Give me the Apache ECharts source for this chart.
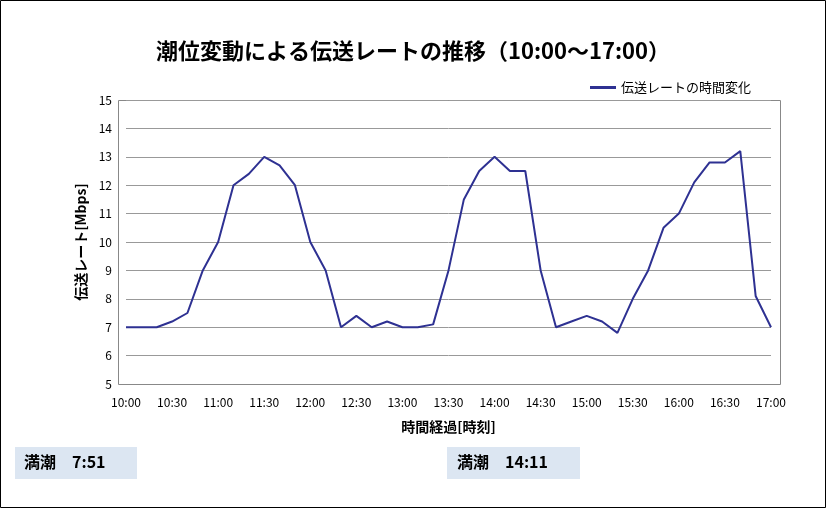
<!DOCTYPE html>
<html><head><meta charset="utf-8">
<script src="https://cdn.jsdelivr.net/npm/echarts@6/dist/echarts.min.js"></script>
<style>html,body{margin:0;padding:0;background:#fff}#c{width:826px;height:508px}</style>
</head><body><div id="c"></div>
<script>
const times = [];
for (let h = 10; h <= 17; h++) for (let m = 0; m < 60; m += 10) { if (h === 17 && m > 0) break; times.push(h + ':' + (m === 0 ? '00' : m)); }
const rates = [7,7,7,7.2,7.5,9,10,12,12.4,13,12.7,12,10,9,7,7.4,7,7.2,7,7,7.1,9,11.5,12.5,13,12.5,12.5,9,7,7.2,7.4,7.2,6.8,8,9,10.5,11,12.1,12.8,12.8,13.2,8.1,7];
const font = '"Noto Sans CJK JP", sans-serif';
const chart = echarts.init(document.getElementById('c'));
chart.setOption({
  animation:false,
  title:{text:'潮位変動による伝送レートの推移（10:00～17:00）',left:'center',top:35,textStyle:{fontFamily:font,fontSize:22,fontWeight:'bold',color:'#000'}},
  legend:{right:70,top:76,itemWidth:26,itemHeight:3,icon:'rect',textStyle:{fontFamily:font,fontSize:13,color:'#000'},data:['伝送レートの時間変化']},
  grid:{left:126,right:55,top:100,bottom:124},
  xAxis:{type:'category',data:times,boundaryGap:false,name:'時間経過[時刻]',nameLocation:'middle',nameGap:36,
    nameTextStyle:{fontFamily:font,fontSize:14,fontWeight:'bold',color:'#000'},
    axisLine:{lineStyle:{color:'#888'}},axisTick:{show:false},
    axisLabel:{interval:2,color:'#000',fontFamily:font,fontSize:12,margin:12}},
  yAxis:{type:'value',min:5,max:15,interval:1,name:'伝送レート[Mbps]',nameLocation:'middle',nameGap:34,
    nameTextStyle:{fontFamily:font,fontSize:14,fontWeight:'bold',color:'#000'},
    axisLine:{show:false},axisTick:{show:false},
    axisLabel:{color:'#000',fontFamily:font,fontSize:12,margin:14},
    splitLine:{lineStyle:{color:'#999'}}},
  graphic:[
    {type:'rect',shape:{x:0.5,y:0.5,width:825,height:507},style:{fill:'none',stroke:'#000',lineWidth:1}},
    {type:'rect',shape:{x:118.5,y:100.5,width:662,height:284},style:{fill:'none',stroke:'#888',lineWidth:1}},
    {type:'rect',shape:{x:15,y:447,width:122,height:32},style:{fill:'#dce6f2'}},
    {type:'text',left:24,top:454,style:{text:'満潮　7:51',fontFamily:font,fontSize:16,fontWeight:'bold',fill:'#000'}},
    {type:'rect',shape:{x:447,y:447,width:133,height:32},style:{fill:'#dce6f2'}},
    {type:'text',left:457,top:454,style:{text:'満潮　14:11',fontFamily:font,fontSize:16,fontWeight:'bold',fill:'#000'}}
  ],
  series:[{name:'伝送レートの時間変化',type:'line',data:rates,symbol:'none',lineStyle:{color:'#2e3192',width:2},itemStyle:{color:'#2e3192'}}]
});
</script></body></html>
